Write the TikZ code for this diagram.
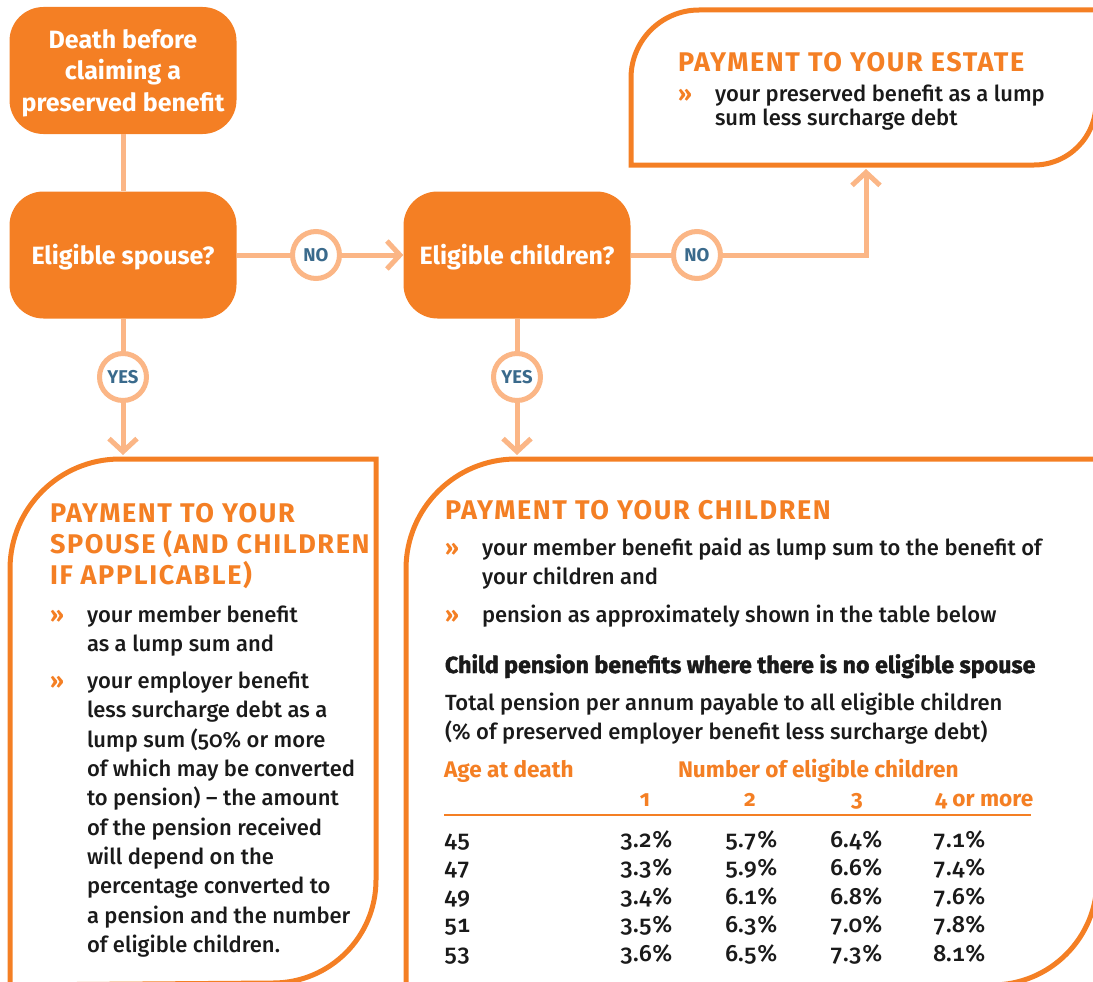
\documentclass[tikz,border=0pt]{standalone}
\usepackage{fontspec}
\setmainfont{Fira Sans}[Numbers=OldStyle, UprightFont=* Medium, BoldFont=* Bold]
\usetikzlibrary{arrows.meta}

\definecolor{brand}{HTML}{F47F24}
\definecolor{flow}{HTML}{FBB686}
\definecolor{tag}{HTML}{3A6A8C}
\definecolor{ink}{HTML}{1A1A1A}

\newcommand\bodysize{\fontsize{22}{29.3}\selectfont}
\newcommand\titlestyle{\fontsize{27}{31}\selectfont\bfseries\addfontfeature{LetterSpace=6}}
\newcommand\bitem[1]{\par\noindent\hangindent=37pt\hangafter=1\makebox[37pt][l]{\textcolor{brand}{\bfseries »}}#1\par}
\newcommand\boxlines[1]{\raisebox{-3pt}[\height][\depth]{\begin{tabular}{@{}c@{}}#1\end{tabular}}}

\tikzset{
  decision/.style={fill=brand, rounded corners=34pt, minimum width=227pt,
    minimum height=127pt, text=white, inner sep=0pt,
    font=\fontsize{25}{31.5}\selectfont\bfseries},
  flowline/.style={draw=flow, line width=5pt},
  flowarrow/.style={flowline, -{Straight Barb[length=13pt,width=28pt]}},
  tagcircle/.style={circle, draw=flow, line width=5pt, fill=white,
    minimum size=47pt, inner sep=0pt, text=tag,
    font=\fontsize{18.5}{18.5}\selectfont\bfseries},
  panel/.style={draw=brand, line width=5pt},
  txt/.style={anchor=base west, inner sep=0pt, outer sep=0pt, text=ink},
  titletxt/.style={anchor=base west, inner sep=0pt, outer sep=0pt, text=brand},
  cell/.style={anchor=base west, inner sep=0pt, outer sep=0pt, text=ink,
    font=\fontsize{23.5}{28}\selectfont\addfontfeature{Numbers={OldStyle,Monospaced}}},
  headcell/.style={inner sep=0pt, outer sep=0pt, text=brand,
    font=\fontsize{22.6}{28}\selectfont\bfseries},
}

\begin{document}
\begin{tikzpicture}[x=1pt,y=-1pt]
\useasboundingbox (0,0) rectangle (1093,982);
\clip (0,0) rectangle (1093,982);

% decision boxes
\node[decision] (death) at (123,70.5) {\boxlines{Death before\\claiming a\\preserved benefit}};
\node[decision] (spouse) at (123,255) {\boxlines{Eligible spouse?}};
\node[decision] (children) at (517,255) {\boxlines{Eligible children?}};

% outcome panels
\draw[panel] (631,165) -- (631,78) arc[start angle=180,end angle=90,radius=68pt]
  -- (1096,10) -- (1096,103) arc[start angle=0,end angle=-90,radius=62pt] -- cycle;
\draw[panel] (10,985) -- (10,569) arc[start angle=180,end angle=90,radius=110pt]
  -- (376,459) -- (376,880) arc[start angle=0,end angle=-90,radius=103pt] -- cycle;
\draw[panel] (406,985) -- (406,569) arc[start angle=180,end angle=90,radius=110pt]
  -- (1097,459) -- (1097,880) arc[start angle=0,end angle=-90,radius=105pt] -- cycle;

% entry points of the panels
\coordinate (estatein) at (866,169);
\coordinate (spousein) at (123,455);
\coordinate (childin) at (517,455);

% connectors
\draw[flowline] (death) -- (spouse);
\draw[flowarrow] (spouse) -- (children);
\draw[flowarrow] (children.east) -| (estatein);
\draw[flowarrow] (spouse) -- (spousein);
\draw[flowarrow] (children) -- (childin);

% answer tags
\node[tagcircle] (no1) at (316,255) {NO};
\node[tagcircle] (no2) at (697,255) {NO};
\node[tagcircle] (yes1) at (123,377) {YES};
\node[tagcircle] (yes2) at (517,377) {YES};

% estate panel text
\node[titletxt] (estatetitle) at (678,72) {\titlestyle PAYMENT TO YOUR ESTATE};
\node[txt] (estatebody) at (678,102) {\parbox[t]{420pt}{\fontsize{22}{24}\selectfont
  \bitem{your preserved benefit as a lump\\sum less surcharge debt}}};

% spouse panel text
\node[titletxt] (spousetitle) at (50,522) {\parbox[t]{400pt}{\titlestyle
  PAYMENT TO YOUR\\SPOUSE (AND CHILDREN\\IF APPLICABLE)}};
\node[txt] (spousebody) at (50,622) {\parbox[t]{400pt}{\bodysize
  \bitem{your member benefit\\as a lump sum and}
  \vspace{8pt}
  \bitem{your employer benefit\\less surcharge debt as a\\lump sum (50\% or more\\of which may be converted\\to pension) -- the amount\\of the pension received\\will depend on the\\percentage converted to\\a pension and the number\\of eligible children.}}};

% children panel text
\node[titletxt] (childtitle) at (445,519) {\titlestyle PAYMENT TO YOUR CHILDREN};
\node[txt] (childbody) at (445,555) {\parbox[t]{700pt}{\bodysize
  \bitem{your member benefit paid as lump sum to the benefit of\\your children and}
  \vspace{9pt}
  \bitem{pension as approximately shown in the table below}}};
\node[txt] (tablehead) at (445,673) {\fontsize{23.2}{29}\selectfont\bfseries\addfontfeature{FakeBold=1.6} Child pension benefits where there is no eligible spouse};
\node[txt] (tablenote) at (445,710) {\parbox[t]{700pt}{\bodysize
  Total pension per annum payable to all eligible children\\(\% of preserved employer benefit less surcharge debt)}};

% child pension table
\node[headcell, anchor=base west] (agehead) at (444,777) {Age at death};
\node[headcell, anchor=base west] (numhead) at (678,777) {Number of eligible children};
\node[headcell, anchor=base] (c1) at (645,806) {1};
\node[headcell, anchor=base] (c2) at (750,806) {2};
\node[headcell, anchor=base] (c3) at (857,806) {3};
\node[headcell, anchor=base west] (c4) at (935,806) {4 or more};
\draw[brand, line width=2pt] (444,815) -- (1031,815);

\foreach \age/\a/\b/\c/\d [count=\i] in {
    45/3.2/5.7/6.4/7.1, 47/3.3/5.9/6.6/7.4, 49/3.4/6.1/6.8/7.6,
    51/3.5/6.3/7.0/7.8, 53/3.6/6.5/7.3/8.1} {
  \pgfmathsetmacro\rowy{847+28.6*(\i-1)}
  \node[cell] (age\i) at (444,\rowy) {\age};
  \node[cell] (one\i) at (620,\rowy) {\a\%};
  \node[cell] (two\i) at (725,\rowy) {\b\%};
  \node[cell] (three\i) at (830,\rowy) {\c\%};
  \node[cell] (four\i) at (933,\rowy) {\d\%};
}
\end{tikzpicture}
\end{document}
